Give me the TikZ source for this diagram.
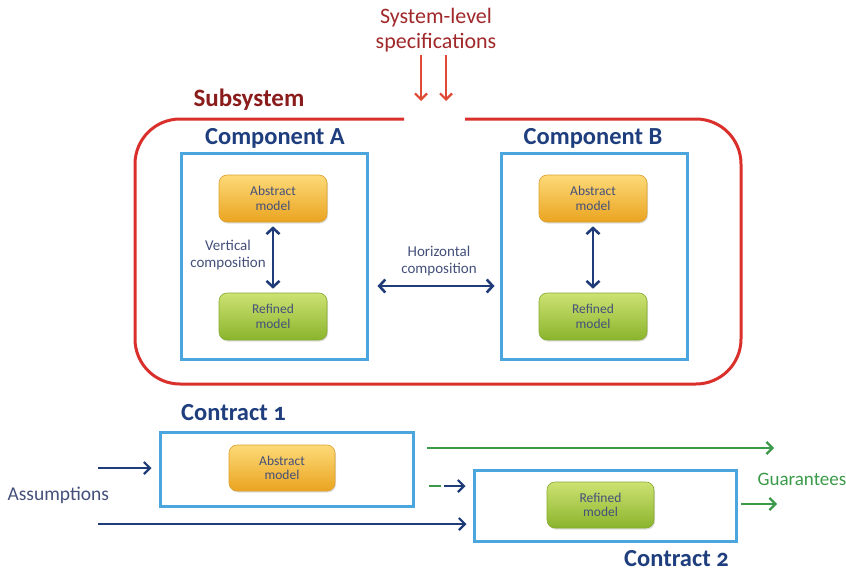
\documentclass[tikz,border=0pt]{standalone}
\usepackage{fontspec}
\setmainfont{Carlito}
\usetikzlibrary{arrows.meta,shadows}

\definecolor{specred}{HTML}{A0282A}
\definecolor{subred}{HTML}{8B1C1C}
\definecolor{arrowred}{HTML}{E04A34}
\definecolor{boxred}{HTML}{D9302C}
\definecolor{compblue}{HTML}{4BA6DE}
\definecolor{titleblue}{HTML}{1F3E7E}
\definecolor{arrowblue}{HTML}{1F3C78}
\definecolor{modeltext}{HTML}{44507A}
\definecolor{guargreen}{HTML}{3A9A48}
\definecolor{orangetop}{HTML}{FDDA78}
\definecolor{orangebot}{HTML}{EAA420}
\definecolor{orangeline}{HTML}{DDA030}
\definecolor{greentop}{HTML}{CDE272}
\definecolor{greenbot}{HTML}{8AB42C}
\definecolor{greenline}{HTML}{86AA34}

\tikzset{
  comp/.style={draw=compblue, line width=3pt, fill=white,
    minimum width=186pt, minimum height=206pt},
  contract/.style={draw=compblue, line width=3pt, fill=white},
  model/.style={rounded corners=8pt, minimum width=108pt, minimum height=47pt,
    text=modeltext, font=\fontsize{13.5}{14.5}\selectfont, align=center,
    line width=0.6pt,
    drop shadow={opacity=0.25, shadow xshift=1pt, shadow yshift=-1.5pt}},
  abstract/.style={model, draw=orangeline, top color=orangetop, bottom color=orangebot},
  refined/.style={model, draw=greenline, top color=greentop, bottom color=greenbot},
  heading/.style={font=\fontsize{24.5}{26}\selectfont\bfseries, text=titleblue, inner sep=1pt},
  note/.style={font=\fontsize{15}{17.5}\selectfont, text=modeltext, align=center},
  barrow/.style={draw=arrowblue, line width=2.2pt,
    -{Straight Barb[length=6pt,width=12pt,line width=2.2pt]}},
  bbarrow/.style={draw=arrowblue, line width=2.6pt,
    {Straight Barb[length=6pt,width=13pt,line width=2.6pt]}-{Straight Barb[length=6pt,width=13pt,line width=2.6pt]}},
  garrow/.style={draw=guargreen, line width=2.2pt,
    -{Straight Barb[length=6pt,width=12pt,line width=2.2pt]}},
  rarrow/.style={draw=arrowred, line width=2.2pt,
    -{Straight Barb[length=6pt,width=12pt,line width=2.2pt]}},
}

\begin{document}
\begin{tikzpicture}[x=1pt,y=-1pt]
  \useasboundingbox (0,0) rectangle (846,571);

  % system-level specifications entering the subsystem
  \node[font=\fontsize{22}{25}\selectfont, text=specred, align=center] (spec) at (436,30)
    {System-level\\specifications};
  \coordinate (s1) at (421,55);
  \coordinate (s2) at (446,55);
  \coordinate (e1) at (421,101);
  \coordinate (e2) at (446,101);
  \draw[rarrow] (s1) -- (e1);
  \draw[rarrow] (s2) -- (e2);

  % subsystem frame, open where the specifications come in
  \node[font=\fontsize{25}{27}\selectfont\bfseries, text=subred, anchor=west] (sublabel) at (190,100) {Subsystem};
  \draw[draw=boxred, line width=3pt, rounded corners=45pt]
    (404,119) -| (135,384) -| (741,119) -- (465,119);

  % component A
  \node[comp] (compA) at (274,256) {};
  \node[heading, anchor=south] (titleA) at (275,150) {Component A};
  \node[abstract] (absA) at (273,198.5) {Abstract\\model};
  \node[refined] (refA) at (273,316.5) {Refined\\model};
  \draw[bbarrow] ([yshift=-4pt]absA.south) -- ([yshift=4pt]refA.north);
  \node[note] (vert) at (228,255) {Vertical\\composition};

  % component B
  \node[comp] (compB) at (594,256) {};
  \node[heading, anchor=south] (titleB) at (593,150) {Component B};
  \node[abstract] (absB) at (593,198.5) {Abstract\\model};
  \node[refined] (refB) at (593,316.5) {Refined\\model};
  \draw[bbarrow] ([yshift=-4pt]absB.south) -- ([yshift=4pt]refB.north);

  % horizontal composition between the components
  \coordinate (hA) at (compA.east |- 0,286);
  \coordinate (hB) at (compB.west |- 0,286);
  \draw[bbarrow, shorten <=9pt, shorten >=5pt] (hA) -- (hB);
  \node[note] (horiz) at (439,261) {Horizontal\\composition};

  % contracts
  \node[heading, anchor=west] (titleC1) at (180,413) {Contract \addfontfeatures{Numbers=OldStyle}1};
  \node[contract, minimum width=253pt, minimum height=74pt] (c1) at (286.5,469) {};
  \node[abstract, minimum width=106pt, minimum height=46pt] (absC) at (282,468) {Abstract\\model};

  \node[contract, minimum width=262pt, minimum height=71pt] (c2) at (605,505.5) {};
  \node[refined, minimum width=107pt, minimum height=46pt] (refC) at (600.5,505) {Refined\\model};
  \node[heading, anchor=west] (titleC2) at (623,558.5) {Contract \addfontfeatures{Numbers=OldStyle}2};

  % assumptions
  \node[font=\fontsize{19.5}{21}\selectfont, text=modeltext, anchor=west] (assume) at (4,495) {Assumptions};
  \coordinate (a1) at (98,468);
  \coordinate (a2) at (98,524);
  \draw[barrow, shorten >=7pt] (a1) -- (c1.west |- a1);
  \draw[barrow, shorten >=6pt] (a2) -- (c2.west |- a2);

  % guarantees
  \coordinate (g1) at (427,448);
  \coordinate (g1e) at (774,448);
  \draw[garrow] (g1) -- (g1e);
  \coordinate (d0) at (429,486);
  \coordinate (d1) at (441,486);
  \coordinate (d2) at (444,486);
  \draw[draw=guargreen, line width=2.2pt] (d0) -- (d1);
  \draw[barrow, shorten >=7pt] (d2) -- (c2.west |- d2);
  \coordinate (g2) at (741,504);
  \coordinate (g2e) at (777,504);
  \draw[garrow] (g2) -- (g2e);
  \node[font=\fontsize{19}{21}\selectfont, text=guargreen, anchor=west] (guar) at (754,479) {Guarantees};
\end{tikzpicture}
\end{document}
